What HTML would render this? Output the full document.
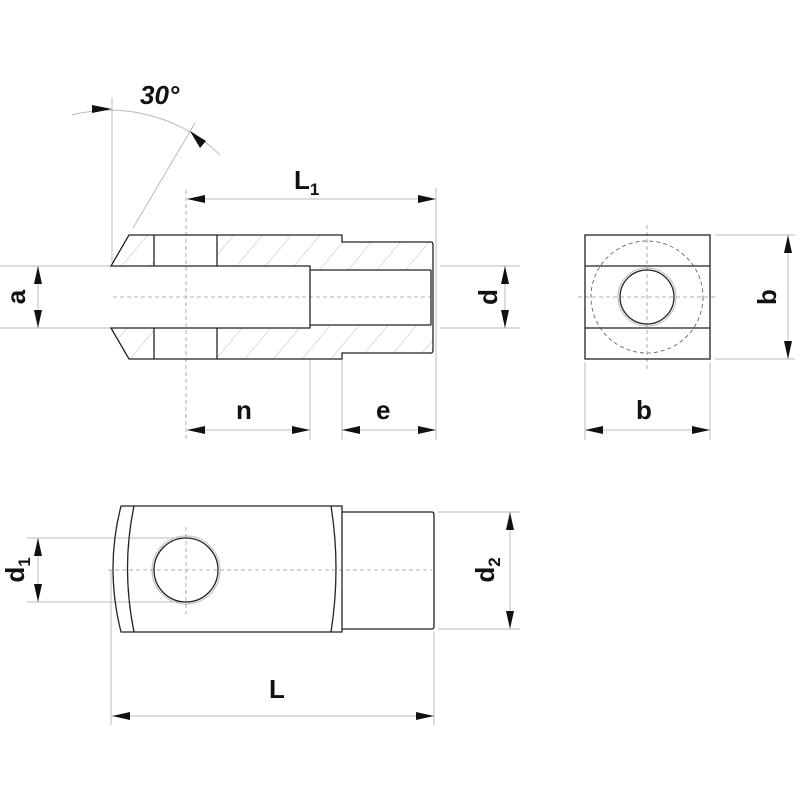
<!DOCTYPE html>
<html><head><style>html,body{margin:0;padding:0;background:#fff}</style></head><body>
<svg width="800" height="800" viewBox="0 0 800 800" xmlns="http://www.w3.org/2000/svg" font-family="Liberation Sans, sans-serif" font-weight="bold">
<defs>
<pattern id="h" patternUnits="userSpaceOnUse" width="22" height="22" patternTransform="rotate(40)">
<line x1="0" y1="0" x2="0" y2="22" stroke="#aaa" stroke-width="0.8"/>
</pattern>
</defs>
<g fill="url(#h)" stroke="none">
<polygon points="129,235 154,235 154,266 111,266"/>
<polygon points="217,235 342,235 342,242 433,242 433,270 310,270 310,266 217,266"/>
<polygon points="111,328 154,328 154,359 129,359"/>
<polygon points="217,328 310,328 310,325 433,325 433,353 342,353 342,359 217,359"/>
</g>
<g stroke="#bbb" stroke-width="1" fill="none">
<line x1="0" y1="266" x2="111" y2="266"/><line x1="0" y1="328" x2="111" y2="328"/>
<line x1="440" y1="266" x2="520" y2="266"/><line x1="440" y1="328" x2="520" y2="328"/>
<line x1="112" y1="98" x2="112" y2="262"/>
<line x1="133" y1="228" x2="195" y2="123"/>
<path d="M72,115 A157,157 0 0 1 220,155"/>
<line x1="436" y1="188" x2="436" y2="440"/>
<line x1="310" y1="360" x2="310" y2="440"/><line x1="342" y1="360" x2="342" y2="440"/>
<line x1="187" y1="199" x2="436" y2="199"/>
<line x1="187" y1="430" x2="310" y2="430"/><line x1="342" y1="430" x2="436" y2="430"/>
<line x1="27" y1="266" x2="105" y2="266"/><line x1="27" y1="328" x2="105" y2="328"/>
<line x1="38" y1="266" x2="38" y2="328"/>
<line x1="505" y1="266" x2="505" y2="328"/>
<line x1="715" y1="235" x2="795" y2="235"/><line x1="715" y1="359" x2="795" y2="359"/>
<line x1="788" y1="235" x2="788" y2="359"/>
<line x1="585" y1="362" x2="585" y2="440"/><line x1="710" y1="362" x2="710" y2="440"/>
<line x1="585" y1="430" x2="710" y2="430"/>
<line x1="27" y1="538" x2="186" y2="538"/><line x1="27" y1="602" x2="186" y2="602"/>
<line x1="38" y1="538" x2="38" y2="602"/>
<line x1="438" y1="512" x2="520" y2="512"/><line x1="438" y1="629" x2="520" y2="629"/>
<line x1="510" y1="512" x2="510" y2="629"/>
<line x1="111" y1="570" x2="111" y2="725"/><line x1="434" y1="632" x2="434" y2="725"/>
<line x1="112" y1="716" x2="434" y2="716"/>
<circle cx="647" cy="297" r="29"/>
<circle cx="186" cy="570" r="34"/>
</g>
<g stroke="#999" stroke-width="0.8" stroke-dasharray="4,3" fill="none">
<line x1="186" y1="190" x2="186" y2="440"/>
<line x1="113" y1="297" x2="430" y2="297"/>
<line x1="647" y1="225" x2="647" y2="370"/>
<line x1="578" y1="297" x2="716" y2="297"/>
<circle cx="647" cy="297" r="56" stroke="#555"/>
<line x1="108" y1="570" x2="432" y2="570"/>
<line x1="186" y1="527" x2="186" y2="614"/>
</g>
<g stroke="#222" stroke-width="1.3" fill="none">
<path d="M111,266 L129,235 L342,235 L342,242 L431,242 Q433,242 433,245 L433,350 Q433,353 431,353 L342,353 L342,359 L129,359 L111,328 L310,328 L310,266 Z"/>
<line x1="154" y1="235" x2="154" y2="266"/><line x1="217" y1="235" x2="217" y2="266"/>
<line x1="154" y1="328" x2="154" y2="359"/><line x1="217" y1="328" x2="217" y2="359"/>
<line x1="310" y1="270" x2="431" y2="270"/><line x1="310" y1="325" x2="431" y2="325"/>
<line x1="431" y1="270" x2="431" y2="325"/>
<rect x="585" y="235" width="125" height="124"/>
<line x1="585" y1="266" x2="710" y2="266"/><line x1="585" y1="328" x2="710" y2="328"/>
<circle cx="647" cy="297" r="27"/>
<path d="M121,506 L342,506 L342,632 L121,632 Q105,568 121,506 Z"/>
<path d="M134,506 Q121,568 134,632"/>
<path d="M331,506 Q341,568 331,632"/>
<path d="M342,512 L432,512 Q434,512 434,515 L434,626 Q434,629 432,629 L342,629"/>
<circle cx="186" cy="570" r="32"/>
</g>
<g fill="#111">
<polygon points="112,109 92,105 92,113"/>
<polygon points="190,131 206,141 200,148"/>
<polygon points="187,199 205,195 205,203"/><polygon points="436,199 418,195 418,203"/>
<polygon points="187,430 205,426 205,434"/><polygon points="310,430 292,426 292,434"/>
<polygon points="342,430 360,426 360,434"/><polygon points="436,430 418,426 418,434"/>
<polygon points="38,266 34,284 42,284"/><polygon points="38,328 34,310 42,310"/>
<polygon points="505,266 501,284 509,284"/><polygon points="505,328 501,310 509,310"/>
<polygon points="788,235 784,253 792,253"/><polygon points="788,359 784,341 792,341"/>
<polygon points="585,430 603,426 603,434"/><polygon points="710,430 692,426 692,434"/>
<polygon points="38,538 34,556 42,556"/><polygon points="38,602 34,584 42,584"/>
<polygon points="510,512 506,530 514,530"/><polygon points="510,629 506,611 514,611"/>
<polygon points="112,716 130,712 130,720"/><polygon points="434,716 416,712 416,720"/>
</g>
<g fill="#111" font-size="26">
<text x="140" y="104" font-style="italic">30°</text>
<text x="294" y="189">L<tspan font-size="17" dy="6">1</tspan></text>
<text x="236" y="419">n</text>
<text x="376" y="419">e</text>
<text x="636" y="419">b</text>
<text x="269" y="698">L</text>
<text transform="translate(25,297) rotate(-90)" text-anchor="middle">a</text>
<text transform="translate(497,297) rotate(-90)" text-anchor="middle">d</text>
<text transform="translate(776,297) rotate(-90)" text-anchor="middle">b</text>
<text transform="translate(24,570) rotate(-90)" text-anchor="middle">d<tspan font-size="17" dy="6">1</tspan></text>
<text transform="translate(494,570) rotate(-90)" text-anchor="middle">d<tspan font-size="17" dy="6">2</tspan></text>
</g>
</svg>
</body></html>
